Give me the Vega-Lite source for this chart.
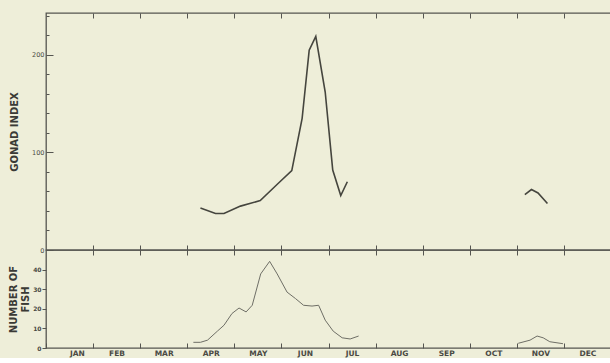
{
  "$schema": "https://vega.github.io/schema/vega-lite/v6.json",
  "background": "#eeeed9",
  "padding": {"left": 8, "top": 11, "right": 0, "bottom": 0},
  "spacing": 0,
  "bounds": "flush",
  "config": {
    "view": {"stroke": "#555550", "strokeWidth": 1.3},
    "axis": {
      "domain": false, "grid": false, "labelOverlap": false,
      "labelFont": "DejaVu Sans", "labelFontWeight": "bold", "labelFontSize": 6, "labelColor": "#4a4a44",
      "tickColor": "#555550", "tickWidth": 1,
      "titleFont": "DejaVu Sans", "titleFontWeight": "bold", "titleFontSize": 10, "titleColor": "#3a3a35"
    }
  },
  "datasets": {
    "gonad": [
      {"seg": "a", "month": 3.28, "gi": 43},
      {"seg": "a", "month": 3.6, "gi": 37.4},
      {"seg": "a", "month": 3.78, "gi": 37.4},
      {"seg": "a", "month": 4.13, "gi": 45},
      {"seg": "a", "month": 4.55, "gi": 50.7},
      {"seg": "a", "month": 4.94, "gi": 68.7},
      {"seg": "a", "month": 5.22, "gi": 81.3},
      {"seg": "a", "month": 5.44, "gi": 135},
      {"seg": "a", "month": 5.59, "gi": 204.8},
      {"seg": "a", "month": 5.73, "gi": 219},
      {"seg": "a", "month": 5.93, "gi": 162},
      {"seg": "a", "month": 6.09, "gi": 82},
      {"seg": "a", "month": 6.26, "gi": 55.8},
      {"seg": "a", "month": 6.4, "gi": 70},
      {"seg": "b", "month": 10.17, "gi": 56.8},
      {"seg": "b", "month": 10.31, "gi": 62},
      {"seg": "b", "month": 10.45, "gi": 58.5},
      {"seg": "b", "month": 10.65, "gi": 47.6}
    ],
    "fish": [
      {"seg": "a", "month": 3.13, "n": 2.9},
      {"seg": "a", "month": 3.28, "n": 2.9},
      {"seg": "a", "month": 3.43, "n": 4},
      {"seg": "a", "month": 3.64, "n": 8.6},
      {"seg": "a", "month": 3.78, "n": 11.6},
      {"seg": "a", "month": 3.95, "n": 17.6},
      {"seg": "a", "month": 4.1, "n": 20.4},
      {"seg": "a", "month": 4.25, "n": 18.4},
      {"seg": "a", "month": 4.38, "n": 21.8},
      {"seg": "a", "month": 4.56, "n": 37.8},
      {"seg": "a", "month": 4.75, "n": 44.2},
      {"seg": "a", "month": 4.91, "n": 37.8},
      {"seg": "a", "month": 5.12, "n": 28.5},
      {"seg": "a", "month": 5.3, "n": 25.2},
      {"seg": "a", "month": 5.47, "n": 21.8},
      {"seg": "a", "month": 5.65, "n": 21.4},
      {"seg": "a", "month": 5.79, "n": 21.8},
      {"seg": "a", "month": 5.93, "n": 14.2},
      {"seg": "a", "month": 6.1, "n": 8.6},
      {"seg": "a", "month": 6.29, "n": 5.2},
      {"seg": "a", "month": 6.46, "n": 4.6},
      {"seg": "a", "month": 6.64, "n": 6.1},
      {"seg": "b", "month": 10.03, "n": 2.4},
      {"seg": "b", "month": 10.28, "n": 4},
      {"seg": "b", "month": 10.43, "n": 6.1},
      {"seg": "b", "month": 10.56, "n": 5.2},
      {"seg": "b", "month": 10.7, "n": 3.2},
      {"seg": "b", "month": 10.98, "n": 2.2}
    ]
  },
  "vconcat": [
    {
      "width": 565, "height": 237,
      "data": {"name": "gonad"},
      "encoding": {
        "y": {"field": "gi", "type": "quantitative", "scale": {"domain": [0, 243], "nice": false},
              "axis": {"values": [0,20,40,60,80,100,120,140,160,180,200,220,240],
                       "labelExpr": "datum.value % 100 === 0 ? datum.value : ''",
                       "labelFontWeight": "normal", "labelFontSize": 6.5,
                       "tickSize": {"condition": {"test": "datum.value % 100 === 0", "value": -7}, "value": -3},
                       "labelPadding": 9,
                       "title": "GONAD INDEX", "titlePadding": 12}}
      },
      "layer": [
        {
          "transform": [{"filter": "datum.seg === 'a'"}],
          "mark": {"type": "line", "color": "#45453e", "strokeWidth": 1.6},
          "encoding": {
            "x": {"field": "month", "type": "quantitative", "scale": {"domain": [0, 12], "nice": false},
                  "axis": {"orient": "bottom", "values": [1,2,3,4,5,6,7,8,9,10,11], "labels": false, "tickSize": -5, "title": null, "minExtent": 0, "maxExtent": 0}}
          }
        },
        {
          "transform": [{"filter": "datum.seg === 'b'"}],
          "mark": {"type": "line", "color": "#45453e", "strokeWidth": 1.6},
          "encoding": {
            "x": {"field": "month", "type": "quantitative", "scale": {"domain": [0, 12], "nice": false},
                  "axis": {"orient": "top", "values": [1,2,3,4,5,6,7,8,9,10,11], "labels": false, "tickSize": -5, "title": null, "minExtent": 0, "maxExtent": 0}}
          }
        }
      ],
      "resolve": {"axis": {"x": "independent"}}
    },
    {
      "width": 565, "height": 98,
      "data": {"name": "fish"},
      "encoding": {
        "y": {"field": "n", "type": "quantitative", "scale": {"domain": [0, 50], "nice": false},
              "axis": {"values": [0,10,20,30,40], "tickSize": 4, "labelPadding": 1,
                       "title": ["NUMBER OF", "FISH"], "titlePadding": 2, "titleLineHeight": 12}}
      },
      "layer": [
        {
          "transform": [{"filter": "datum.seg === 'a'"}],
          "mark": {"type": "line", "color": "#6e6e66", "strokeWidth": 1},
          "encoding": {
            "x": {"field": "month", "type": "quantitative", "scale": {"domain": [0, 12], "nice": false},
                  "axis": {"orient": "bottom", "values": [0,1,2,3,4,5,6,7,8,9,10,11],
                           "labelExpr": "['JAN','FEB','MAR','APR','MAY','JUN','JUL','AUG','SEP','OCT','NOV','DEC'][datum.value]",
                           "labelFontSize": 7.5,
                           "labelOffset": 23.5, "tickSize": -5, "labelPadding": 6, "title": null}}
          }
        },
        {
          "transform": [{"filter": "datum.seg === 'b'"}],
          "mark": {"type": "line", "color": "#6e6e66", "strokeWidth": 1},
          "encoding": {
            "x": {"field": "month", "type": "quantitative", "scale": {"domain": [0, 12], "nice": false},
                  "axis": {"orient": "top", "values": [1,2,3,4,5,6,7,8,9,10,11], "labels": false, "tickSize": -5, "title": null, "minExtent": 0, "maxExtent": 0}}
          }
        }
      ],
      "resolve": {"axis": {"x": "independent"}}
    }
  ]
}
